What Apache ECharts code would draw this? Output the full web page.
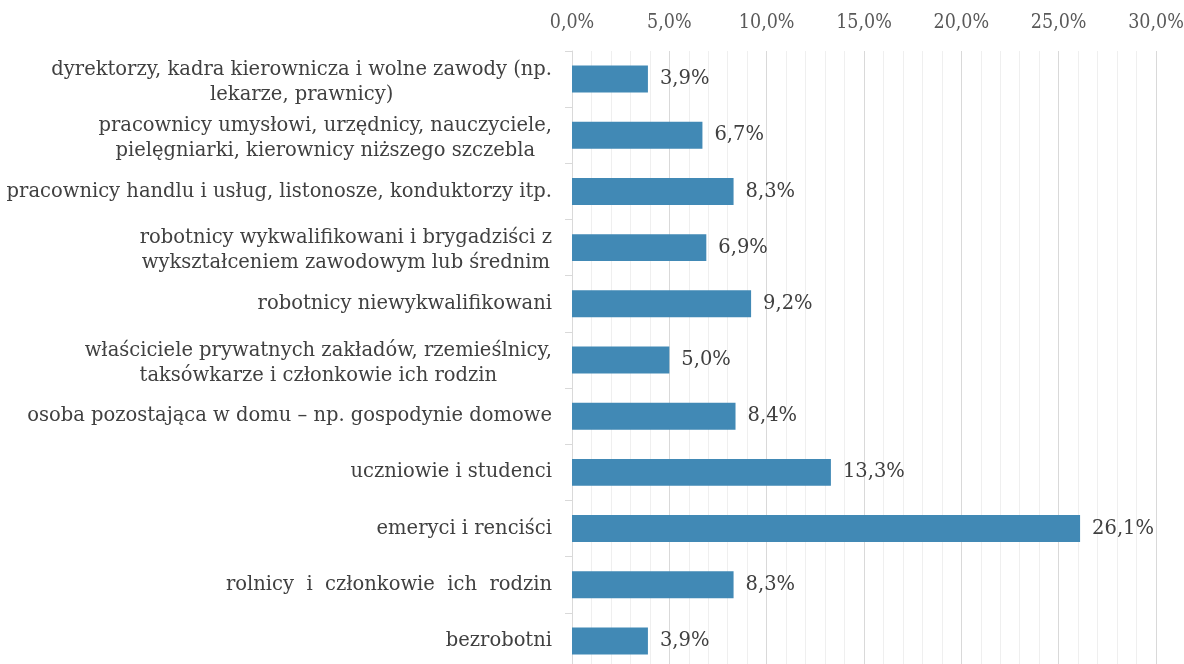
<!DOCTYPE html>
<html>
<head>
<meta charset="utf-8">
<script src="https://cdn.jsdelivr.net/npm/echarts@6/dist/echarts.min.js"></script>
<style>html,body{margin:0;padding:0;background:#fff;overflow:hidden}#c{width:1184px;height:669px}</style>
</head>
<body>
<div id="c"></div>
<script>
const categories = [
  "dyrektorzy, kadra kierownicza i wolne zawody (np.\nlekarze, prawnicy)",
  "pracownicy umysłowi, urzędnicy, nauczyciele,\npielęgniarki, kierownicy niższego szczebla",
  "pracownicy handlu i usług, listonosze, konduktorzy itp.",
  "robotnicy wykwalifikowani i brygadziści z\nwykształceniem zawodowym lub średnim",
  "robotnicy niewykwalifikowani",
  "właściciele prywatnych zakładów, rzemieślnicy,\ntaksówkarze i członkowie ich rodzin",
  "osoba pozostająca w domu – np. gospodynie domowe",
  "uczniowie i studenci",
  "emeryci i renciści",
  "rolnicy  i  członkowie  ich  rodzin",
  "bezrobotni"
];
const values = [3.9, 6.7, 8.3, 6.9, 9.2, 5.0, 8.4, 13.3, 26.1, 8.3, 3.9];
const axisMin = 0, axisMax = 30, axisStep = 5;

const FONT = '"DejaVu Serif", serif';
const FONT_C = '"DejaVu Serif Condensed", "DejaVu Serif", serif';
const FS = 19.5;
const fmt = v => v.toFixed(1).replace('.', ',') + '%';

const catData = categories.map(c => c.indexOf('\n') >= 0
  ? {value: c, textStyle: {padding: [6, 0, 0, 0]}}
  : c);

const chart = echarts.init(document.getElementById('c'), null, {renderer: 'canvas'});
chart.setOption({
  animation: false,
  backgroundColor: '#ffffff',
  grid: {left: 572, width: 584, top: 51, bottom: 0, containLabel: false, outerBoundsMode: 'none'},
  xAxis: {
    type: 'value', position: 'top', min: axisMin, max: axisMax, interval: axisStep,
    axisLine: {show: false}, axisTick: {show: false},
    axisLabel: {formatter: fmt, color: '#595959', fontSize: FS, fontFamily: FONT_C, margin: 18},
    splitLine: {show: true, lineStyle: {color: '#d9d9d9', width: 1}},
    minorTick: {show: false, splitNumber: 5},
    minorSplitLine: {show: true, lineStyle: {color: '#efefef', width: 1}}
  },
  yAxis: {
    type: 'category', inverse: true, data: catData,
    axisLine: {show: true, lineStyle: {color: '#d9d9d9', width: 1}},
    axisTick: {show: true, length: 7, lineStyle: {color: '#d9d9d9'}},
    axisLabel: {
      margin: 20, color: '#404040', fontSize: FS, fontFamily: FONT,
      formatter: v => v.split('\n').map(l => '{c|' + l + '}').join('\n'),
      rich: {c: {align: 'center', fontSize: FS, fontFamily: FONT, color: '#404040', lineHeight: 25}}
    }
  },
  series: [{
    type: 'bar', data: values, barCategoryGap: '52%',
    itemStyle: {color: '#4189b5'},
    label: {show: true, position: 'right', distance: 12, formatter: p => fmt(p.value),
      color: '#404040', fontSize: FS, fontFamily: FONT}
  }]
});
</script>
</body>
</html>
